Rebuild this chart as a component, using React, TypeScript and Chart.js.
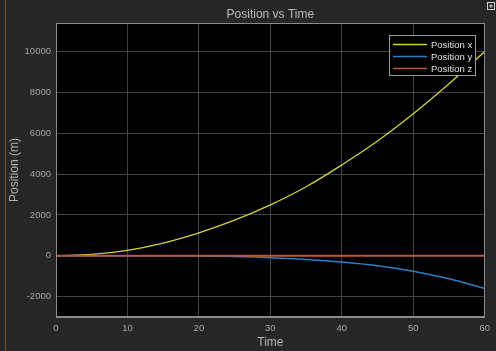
import React, { useEffect, useRef } from "react";
import { Chart, registerables } from "chart.js";

Chart.register(...registerables);

const times = [0, 5, 10, 15, 20, 25, 30, 35, 40, 45, 50, 55, 60];
const positionX = [0, 65, 265, 620, 1120, 1740, 2490, 3380, 4450, 5620, 6950, 8420, 10000];
const positionY = [0, 0, 0, -2, -10, -40, -95, -180, -305, -490, -760, -1130, -1600];
const positionZ = [0, 0, 0, 0, 0, 0, 0, 0, 0, 0, 0, 0, 0];
const seriesLabels = ["Position x", "Position y", "Position z"];
const xTickValues = [0, 10, 20, 30, 40, 50, 60];
const yTickValues = [-2000, 0, 2000, 4000, 6000, 8000, 10000];
const chartTitle = "Position vs Time";
const xTitle = "Time";
const yTitle = "Position (m)";

const COLORS = ["#d2d23c", "#2d7ec4", "#b95a3e"];
const FONT = "'Liberation Sans', Arial, Helvetica, sans-serif";

const decorPlugin = {
  id: "decor",
  beforeDraw(chart: any) {
    const { ctx, chartArea: a } = chart;
    ctx.save();
    ctx.fillStyle = "#000000";
    ctx.fillRect(a.left, a.top, a.right - a.left, a.bottom - a.top);
    ctx.restore();
  },
  afterDraw(chart: any) {
    const { ctx, chartArea: a } = chart;
    ctx.save();
    ctx.strokeStyle = "#8a8a8a";
    ctx.lineWidth = 1;
    ctx.strokeRect(Math.round(a.left) + 0.5, Math.round(a.top) + 0.5, Math.round(a.right - a.left) - 1, Math.round(a.bottom - a.top) - 1);
    ctx.fillStyle = "#b8b8b8";
    ctx.font = `12px ${FONT}`;
    ctx.textAlign = "center";
    ctx.textBaseline = "middle";
    ctx.fillText(chartTitle, (a.left + a.right) / 2, 15);
    const bx = 389.5, by = 35.5, bw = 86, bh = 40;
    ctx.fillStyle = "#000000";
    ctx.fillRect(bx, by, bw, bh);
    ctx.strokeStyle = "#9a9a9a";
    ctx.strokeRect(bx, by, bw, bh);
    ctx.font = `9.5px ${FONT}`;
    ctx.textAlign = "left";
    chart.data.datasets.forEach((ds: any, i: number) => {
      const y = 44.5 + i * 12;
      ctx.strokeStyle = ds.borderColor;
      ctx.lineWidth = 1.3;
      ctx.beginPath();
      ctx.moveTo(393, y);
      ctx.lineTo(427, y);
      ctx.stroke();
      ctx.fillStyle = "#e4e4e4";
      ctx.fillText(ds.label, 431, y + 0.5);
    });
    ctx.strokeStyle = "#cfcfcf";
    ctx.lineWidth = 1;
    ctx.strokeRect(487.5, 2.5, 7, 7);
    ctx.beginPath();
    ctx.moveTo(489, 6);
    ctx.lineTo(493, 6);
    ctx.moveTo(491, 4);
    ctx.lineTo(491, 8);
    ctx.stroke();
    ctx.strokeStyle = "#6e4d2c";
    ctx.beginPath();
    ctx.moveTo(5.5, 0);
    ctx.lineTo(5.5, 351);
    ctx.stroke();
    ctx.restore();
  },
};

export default function App() {
  const ref = useRef<HTMLCanvasElement | null>(null);

  useEffect(() => {
    document.body.style.margin = "0";
    const canvas = ref.current;
    if (!canvas) return;
    const mk = (vals: number[]) => times.map((t, i) => ({ x: t, y: vals[i] }));
    const chart = new Chart(canvas, {
      type: "line",
      data: {
        datasets: [
          { label: seriesLabels[0], data: mk(positionX), borderColor: COLORS[0], borderWidth: 1.3, pointRadius: 0, tension: 0.4, order: 2 },
          { label: seriesLabels[1], data: mk(positionY), borderColor: COLORS[1], borderWidth: 1.5, pointRadius: 0, tension: 0.4, order: 1 },
          { label: seriesLabels[2], data: mk(positionZ), borderColor: COLORS[2], borderWidth: 2, pointRadius: 0, order: 0 },
        ],
      } as any,
      options: {
        animation: false,
        responsive: false,
        devicePixelRatio: 1,
        layout: { padding: { left: 0, right: 9, top: 23, bottom: 0 } },
        plugins: { legend: { display: false }, tooltip: { enabled: false }, title: { display: false } },
        scales: {
          x: {
            type: "linear",
            min: 0,
            max: 60,
            afterBuildTicks: (s: any) => { s.ticks = xTickValues.map((v) => ({ value: v })); },
            afterFit: (s: any) => { s.height = 34; },
            grid: { color: "#444444", drawTicks: false },
            border: { color: "#8a8a8a" },
            ticks: { color: "#a6a6a6", font: { family: FONT, size: 9.5 }, padding: 6, maxRotation: 0, callback: (v: any) => String(v) },
            title: { display: true, text: xTitle, color: "#b4b4b4", font: { family: FONT, size: 12 }, padding: { top: 0, bottom: 1 } },
          },
          y: {
            type: "linear",
            min: -3000,
            max: 11400,
            afterBuildTicks: (s: any) => { s.ticks = yTickValues.map((v) => ({ value: v })); },
            afterFit: (s: any) => { s.width = 56; },
            grid: { color: "#444444", drawTicks: false },
            border: { color: "#8a8a8a" },
            ticks: { color: "#a6a6a6", font: { family: FONT, size: 9.5 }, padding: 5, callback: (v: any) => String(v) },
            title: { display: true, text: yTitle, color: "#b4b4b4", font: { family: FONT, size: 12 }, padding: { top: 7, bottom: 0 } },
          },
        },
      } as any,
      plugins: [decorPlugin],
    });
    return () => chart.destroy();
  }, []);

  return (
    <div style={{ width: 496, height: 351, background: "#262626" }}>
      <canvas ref={ref} width={496} height={351} style={{ display: "block" }} />
    </div>
  );
}
